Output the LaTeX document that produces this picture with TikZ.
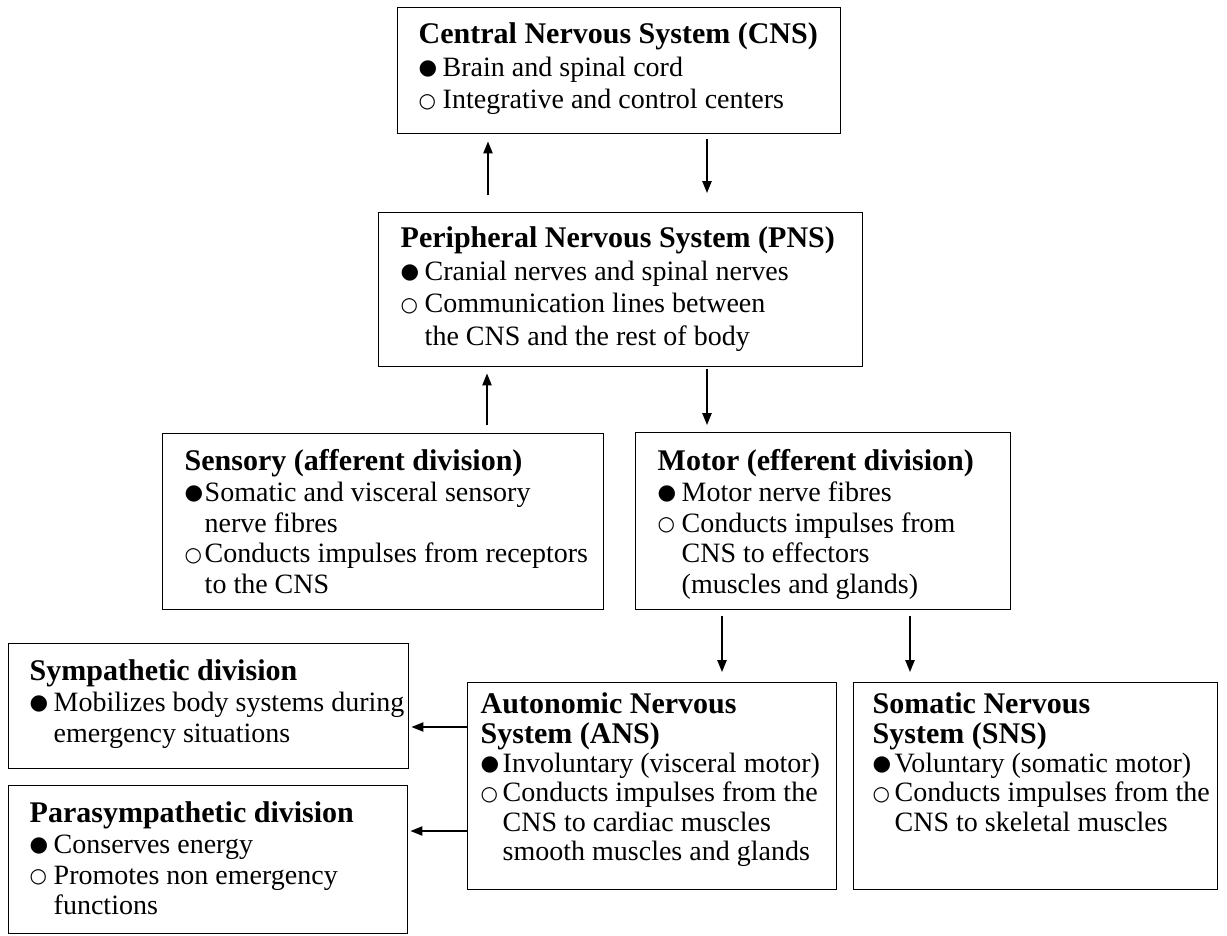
\documentclass[tikz,border=0pt]{standalone}
\usepackage{fontspec}
\setmainfont{Liberation Serif}
\newfontfamily\symfont{DejaVu Sans}
\usetikzlibrary{arrows.meta}

\newlength{\px}\setlength{\px}{0.75pt}
\newlength{\bulw}\setlength{\bulw}{24\px}
\newcommand{\fb}{\makebox[\bulw][l]{\raisebox{1.2pt}{\fontsize{16pt}{16pt}\symfont ●}}}
\newcommand{\ob}{\makebox[\bulw][l]{\raisebox{1.2pt}{\fontsize{15pt}{15pt}\symfont ○}}}
\newcommand{\ind}{\hspace*{\bulw}}
\newcommand{\ttl}[1]{{\fontsize{22.5pt}{23pt}\selectfont\bfseries #1}}
\newcommand{\boxfont}{\fontsize{21pt}{23pt}\selectfont}
\newcommand{\widefont}{\fontsize{21pt}{24.5pt}\selectfont}
\newcommand{\tightfont}{\fontsize{21pt}{22pt}\selectfont\setlength{\bulw}{22\px}}
% width, height, left pad, top pad, lines
\newcommand{\boxtext}[5]{\parbox[t][#2\px][t]{#1\px}{\vspace*{#4\px}\hspace*{#3\px}\begin{tabular}[t]{@{}l@{}}#5\end{tabular}}}

\tikzset{
  nbox/.style={draw, line width=1.1pt, anchor=north west, inner sep=0pt, font=\boxfont},
  arr/.style={-{Triangle[length=9pt,width=7pt]}, line width=1.1pt}
}

\begin{document}
\begin{tikzpicture}[x=0.75pt, y=-0.75pt]
    \useasboundingbox (0,0) rectangle (1227,935);
    \node[nbox, font=\widefont] (cns) at (397,7) {\boxtext{443}{126}{21}{13}{%
      \ttl{Central Nervous System (CNS)}\\
      \fb Brain and spinal cord\\
      \ob Integrative and control centers}};
    \node[nbox, font=\widefont] (pns) at (378,212) {\boxtext{484}{154}{22}{12}{%
      \ttl{Peripheral Nervous System (PNS)}\\
      \fb Cranial nerves and spinal nerves\\
      \ob Communication lines between\\
      \ind the CNS and the rest of body}};
    \node[nbox, font=\boxfont\setlength{\bulw}{20\px}] (sens) at (162,433) {\boxtext{441}{176}{22}{15.5}{%
      \ttl{Sensory (afferent division)}\\
      \fb Somatic and visceral sensory\\
      \ind nerve fibres\\
      \ob Conducts impulses from receptors\\
      \ind to the CNS}};
    \node[nbox] (motor) at (635,432) {\boxtext{375}{177}{22}{16.5}{%
      \ttl{Motor (efferent division)}\\
      \fb Motor nerve fibres\\
      \ob Conducts impulses from\\
      \ind CNS to effectors\\
      \ind (muscles and glands)}};
    \node[nbox] (symp) at (8,643) {\boxtext{400}{125}{21}{15.5}{%
      \ttl{Sympathetic division}\\
      \fb Mobilizes body systems during\\
      \ind emergency situations}};
    \node[nbox] (para) at (8,785) {\boxtext{399}{148}{21}{15.5}{%
      \ttl{Parasympathetic division}\\
      \fb Conserves energy\\
      \ob Promotes non emergency\\
      \ind functions}};
    \node[nbox, font=\tightfont] (ans) at (467,682) {\boxtext{369}{207}{13}{10}{%
      \ttl{Autonomic Nervous}\\
      \ttl{System (ANS)}\\
      \fb Involuntary (visceral motor)\\
      \ob Conducts impulses from the\\
      \ind CNS to cardiac muscles\\
      \ind smooth muscles and glands}};
    \node[nbox, font=\tightfont] (sns) at (853,682) {\boxtext{364}{207}{19}{10}{%
      \ttl{Somatic Nervous}\\
      \ttl{System (SNS)}\\
      \fb Voluntary (somatic motor)\\
      \ob Conducts impulses from the\\
      \ind CNS to skeletal muscles}};
    \draw[arr, shorten <=17\px, shorten >=7\px] ([xshift=110\px]pns.north west) -- ([xshift=91\px]cns.south west);
    \draw[arr, shorten <=5\px, shorten >=19\px] ([xshift=310\px]cns.south west) -- ([xshift=329\px]pns.north west);
    \draw[arr, shorten <=8\px, shorten >=6\px] ([xshift=325\px]sens.north west) -- ([xshift=109\px]pns.south west);
    \draw[arr, shorten <=2\px, shorten >=7\px] ([xshift=329\px]pns.south west) -- ([xshift=72\px]motor.north west);
    \draw[arr, shorten <=6\px, shorten >=10\px] ([xshift=87\px]motor.south west) -- ([xshift=255\px]ans.north west);
    \draw[arr, shorten <=6\px, shorten >=10\px] ([xshift=275\px]motor.south west) -- ([xshift=57\px]sns.north west);
    \draw[arr, shorten >=2\px] ([yshift=-45\px]ans.north west) -- ([yshift=-84\px]symp.north east);
    \draw[arr, shorten >=2\px] ([yshift=-149\px]ans.north west) -- ([yshift=-46\px]para.north east);
\end{tikzpicture}
\end{document}
